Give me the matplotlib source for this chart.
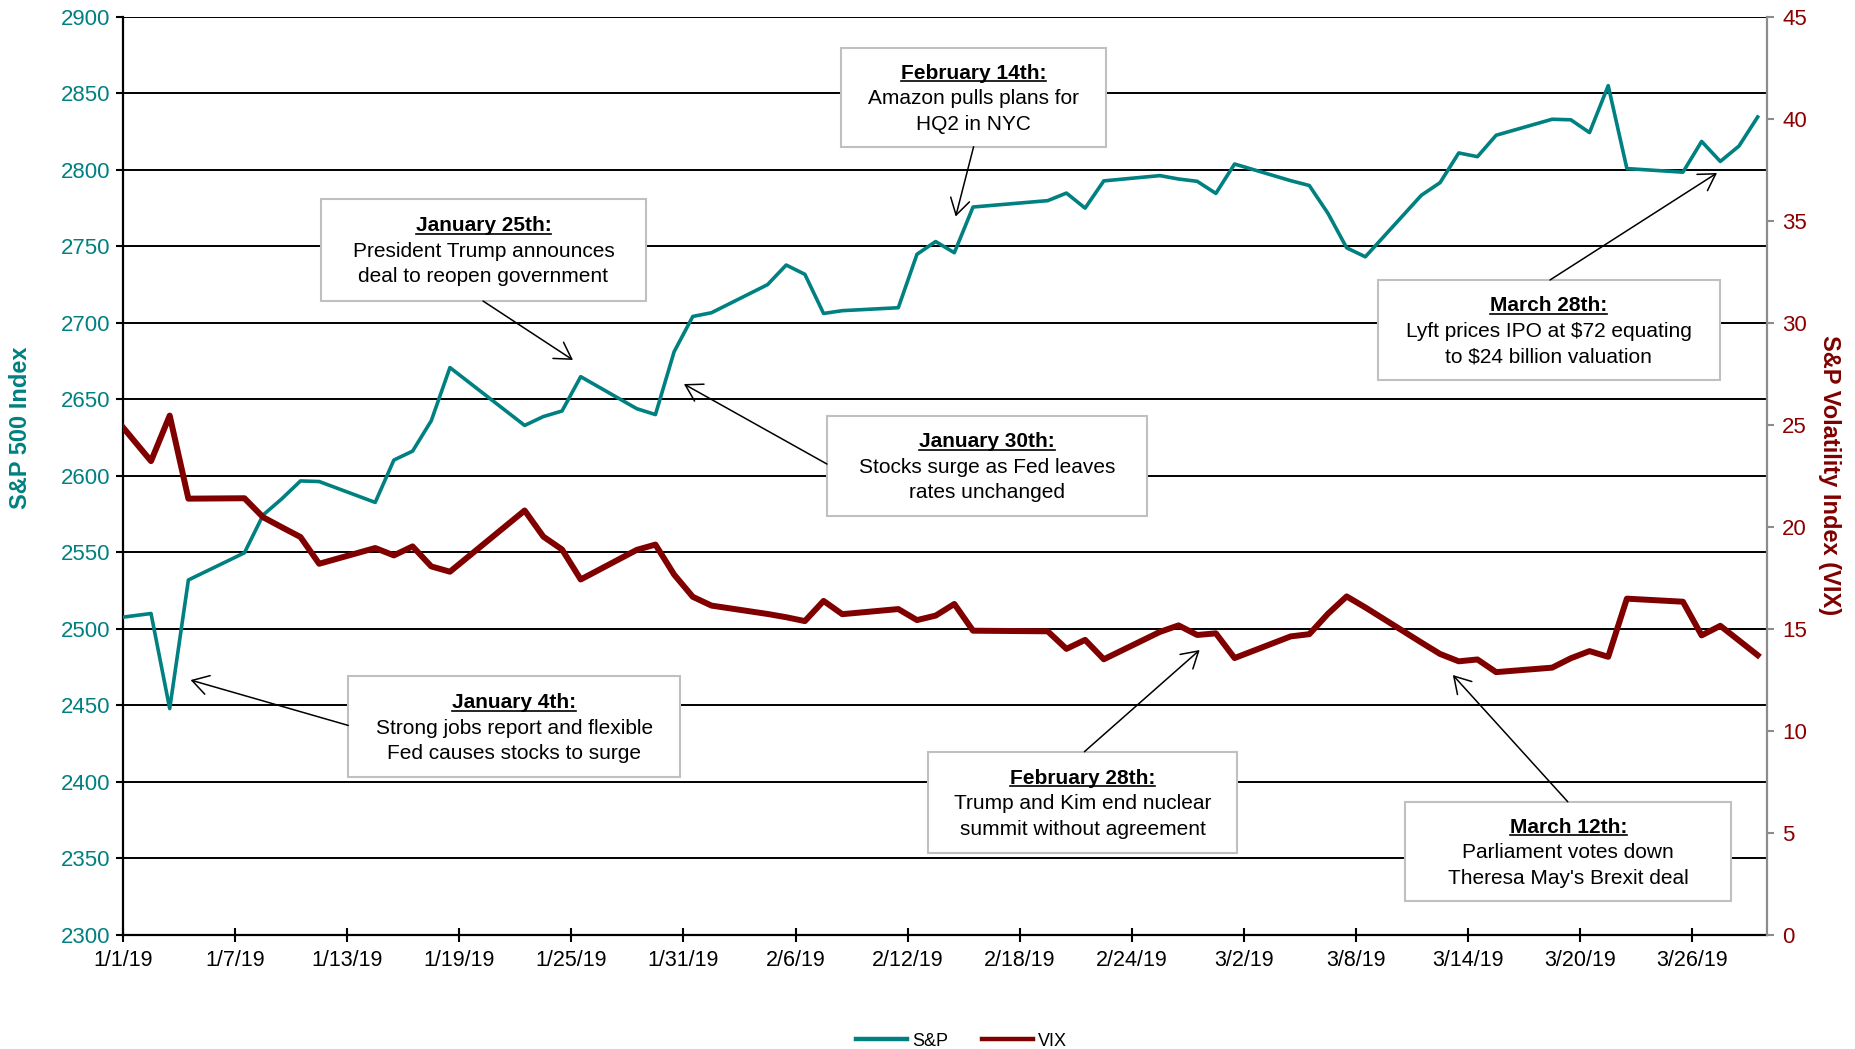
import matplotlib
matplotlib.use("Agg")
import matplotlib.pyplot as plt
import matplotlib.dates as mdates
from matplotlib import font_manager
from matplotlib.lines import Line2D
from matplotlib.patches import Rectangle
import pandas as pd

# daily closes, Q1 2019 (plus the last session of 2018)
dates = pd.to_datetime([
    "2018-12-31", "2019-01-02", "2019-01-03", "2019-01-04", "2019-01-07", "2019-01-08",
    "2019-01-09", "2019-01-10", "2019-01-11", "2019-01-14", "2019-01-15", "2019-01-16",
    "2019-01-17", "2019-01-18", "2019-01-22", "2019-01-23", "2019-01-24", "2019-01-25",
    "2019-01-28", "2019-01-29", "2019-01-30", "2019-01-31", "2019-02-01", "2019-02-04",
    "2019-02-05", "2019-02-06", "2019-02-07", "2019-02-08", "2019-02-11", "2019-02-12",
    "2019-02-13", "2019-02-14", "2019-02-15", "2019-02-19", "2019-02-20", "2019-02-21",
    "2019-02-22", "2019-02-25", "2019-02-26", "2019-02-27", "2019-02-28", "2019-03-01",
    "2019-03-04", "2019-03-05", "2019-03-06", "2019-03-07", "2019-03-08", "2019-03-11",
    "2019-03-12", "2019-03-13", "2019-03-14", "2019-03-15", "2019-03-18", "2019-03-19",
    "2019-03-20", "2019-03-21", "2019-03-22", "2019-03-25", "2019-03-26", "2019-03-27",
    "2019-03-28", "2019-03-29",
])
spx = [
    2506.85, 2510.03, 2447.89, 2531.94, 2549.69, 2574.41,
    2584.96, 2596.64, 2596.26, 2582.61, 2610.30, 2616.10,
    2635.96, 2670.71, 2632.90, 2638.70, 2642.33, 2664.76,
    2643.85, 2640.00, 2681.05, 2704.10, 2706.53, 2724.87,
    2737.70, 2731.61, 2706.05, 2707.88, 2709.80, 2744.73,
    2753.03, 2745.73, 2775.60, 2779.76, 2784.70, 2774.88,
    2792.67, 2796.11, 2793.90, 2792.38, 2784.49, 2803.69,
    2792.81, 2789.65, 2771.45, 2748.93, 2743.07, 2783.30,
    2791.52, 2810.92, 2808.48, 2822.48, 2832.94, 2832.57,
    2824.23, 2854.88, 2800.71, 2798.36, 2818.46, 2805.37,
    2815.44, 2834.40,
]
vix = [
    25.42, 23.22, 25.45, 21.38, 21.40, 20.47,
    19.98, 19.50, 18.19, 18.96, 18.60, 19.04,
    18.06, 17.80, 20.80, 19.52, 18.89, 17.42,
    18.87, 19.13, 17.66, 16.57, 16.14, 15.73,
    15.57, 15.38, 16.37, 15.72, 15.97, 15.43,
    15.65, 16.22, 14.91, 14.88, 14.02, 14.46,
    13.51, 14.85, 15.17, 14.70, 14.78, 13.57,
    14.63, 14.74, 15.74, 16.59, 16.05, 14.33,
    13.77, 13.41, 13.50, 12.88, 13.10, 13.56,
    13.91, 13.63, 16.48, 16.33, 14.68, 15.15,
    14.43, 13.71,
]

# event call-outs: title, body lines, box (x0, y0, x1, y1), arrow start, arrow tip (axes fraction)
notes = [
    ("January 4th:", ["Strong jobs report and flexible", "Fed causes stocks to surge"],
     (0.1370, 0.1717, 0.3388, 0.2820), (0.1370, 0.2282), (0.0411, 0.2776)),
    ("January 25th:", ["President Trump announces", "deal to reopen government"],
     (0.1204, 0.6903, 0.3181, 0.8014), (0.2190, 0.6903), (0.2737, 0.6261)),
    ("January 30th:", ["Stocks surge as Fed leaves", "rates unchanged"],
     (0.4282, 0.4565, 0.6229, 0.5654), (0.4282, 0.5128), (0.3412, 0.5999)),
    ("February 14th:", ["Amazon pulls plans for", "HQ2 in NYC"],
     (0.4370, 0.8583, 0.5978, 0.9655), (0.5174, 0.8583), (0.5065, 0.7823)),
    ("February 28th:", ["Trump and Kim end nuclear", "summit without agreement"],
     (0.4897, 0.0890, 0.6779, 0.1996), (0.5848, 0.1996), (0.6549, 0.3103)),
    ("March 12th:", ["Parliament votes down", "Theresa May's Brexit deal"],
     (0.7800, 0.0370, 0.9782, 0.1451), (0.8788, 0.1451), (0.8089, 0.2831)),
    ("March 28th:", ["Lyft prices IPO at $72 equating", "to $24 billion valuation"],
     (0.7632, 0.6043, 0.9712, 0.7132), (0.8680, 0.7132), (0.9696, 0.8297)),
]

TEAL = "#008080"
MAROON = "#800000"
TICK_RED = "#8b0000"

plt.rcParams["font.family"] = ["Liberation Sans", "DejaVu Sans"]

fig = plt.figure(figsize=(18.56, 10.49), dpi=100)
ax = fig.add_axes([0.06627, 0.10868, 0.88578, 0.87550])
ax2 = ax.twinx()

# Excel-style date axis: each session sits in the middle of its day
x = mdates.date2num(dates) + 0.5
ax.plot(x, spx, color=TEAL, lw=2.6, zorder=3)
ax2.plot(x, vix, color=MAROON, lw=4.3, zorder=3)

ax.set_xlim(mdates.date2num(pd.Timestamp("2019-01-01")),
            mdates.date2num(pd.Timestamp("2019-03-30")))
ax.set_ylim(2300, 2900)
ax.set_yticks(range(2300, 2901, 50))
ax2.set_ylim(0, 45)
ax2.set_yticks(range(0, 46, 5))

ticks = pd.date_range("2019-01-01", "2019-03-26", freq="6D")
ax.set_xticks(mdates.date2num(ticks))
ax.set_xticklabels([f"{d.month}/{d.day}/{d.year % 100}" for d in ticks])

ax.yaxis.grid(True, color="black", lw=1.4)
ax.set_axisbelow(True)

for s in ("top", "right"):
    ax.spines[s].set_visible(False)
for s in ("top", "left", "bottom"):
    ax2.spines[s].set_visible(False)
ax.spines["left"].set_linewidth(1.6)
ax.spines["bottom"].set_linewidth(1.6)
ax2.spines["right"].set_color("#8c8c8c")
ax2.spines["right"].set_linewidth(1.6)

ax.tick_params(axis="y", direction="out", length=5, width=1.5, color="black",
               labelcolor=TEAL, labelsize=16, pad=4)
ax.tick_params(axis="x", direction="inout", length=10, width=1.5, color="black",
               labelsize=15.5, pad=6)
ax2.tick_params(axis="y", direction="out", length=5, width=1.5, color="#8c8c8c",
                labelcolor=TICK_RED, labelsize=16, pad=6)

fig.text(0.0113, 0.592, "S&P 500 Index", rotation=90, ha="center", va="center",
         color=TEAL, fontsize=17, fontweight="bold")
fig.text(0.9855, 0.5472, "S&P Volatility Index (VIX)", rotation=270, ha="center",
         va="center", color=MAROON, fontsize=17, fontweight="bold")

# call-out boxes with arrows
line_gap = 25.5 / (0.87550 * 1049)
titles = []
for title, body, (bx0, by0, bx1, by1), start, tip in notes:
    ax2.add_patch(Rectangle((bx0, by0), bx1 - bx0, by1 - by0, transform=ax2.transAxes,
                            facecolor="white", edgecolor="#c0c0c0", lw=1.5,
                            zorder=10, clip_on=False))
    cx = (bx0 + bx1) / 2
    cy = (by0 + by1) / 2
    base = cy - 0.0076
    t = ax2.text(cx, base + line_gap, title, transform=ax2.transAxes, ha="center",
                 va="baseline", fontsize=15, fontweight="bold", zorder=11)
    titles.append(t)
    for i, line in enumerate(body):
        ax2.text(cx, base - i * line_gap, line, transform=ax2.transAxes, ha="center",
                 va="baseline", fontsize=15, zorder=11)
    ax2.annotate("", xy=tip, xytext=start, xycoords="axes fraction",
                 textcoords="axes fraction", zorder=12,
                 arrowprops=dict(arrowstyle="->, head_length=0.4, head_width=0.24",
                                 color="black", lw=1.1, shrinkA=0, shrinkB=0,
                                 mutation_scale=29))

# underline the call-out titles
fig.canvas.draw()
renderer = fig.canvas.get_renderer()
inv = fig.transFigure.inverted()
for t in titles:
    bb = t.get_window_extent(renderer)
    _, base_px = t.get_transform().transform(t.get_position())
    (fx0, fy), (fx1, _) = inv.transform([(bb.x0, base_px - 2.5), (bb.x1, base_px - 2.5)])
    fig.add_artist(Line2D([fx0, fx1], [fy, fy], color="black", lw=1.2, zorder=20))

handles = [Line2D([], [], color=TEAL, lw=3.2), Line2D([], [], color=MAROON, lw=3.2)]
fig.legend(handles, ["S&P", "VIX"], loc="center", bbox_to_anchor=(0.5181, 0.0075),
           ncol=2, frameon=False, fontsize=13, handlelength=2.8, handletextpad=0.3,
           columnspacing=1.9)

fig.savefig("out.png", dpi=100)
